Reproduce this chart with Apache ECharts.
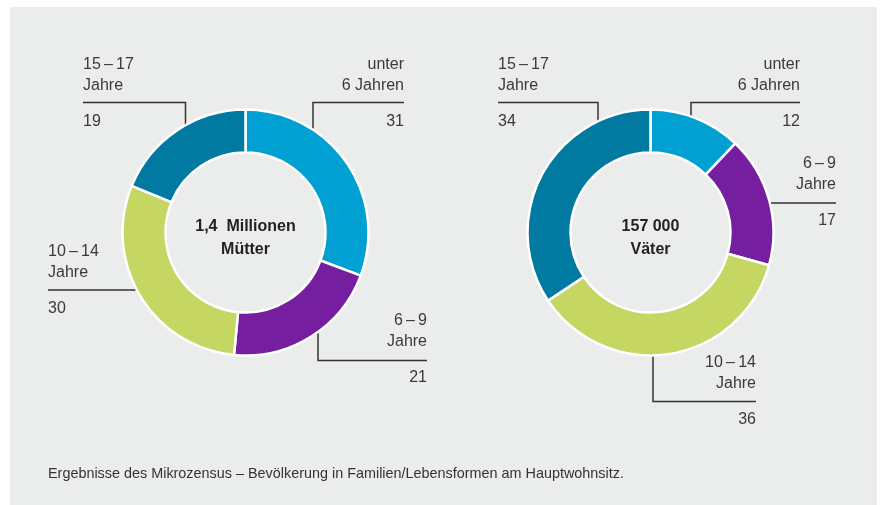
<!DOCTYPE html>
<html>
<head>
<meta charset="utf-8">
<script src="https://cdn.jsdelivr.net/npm/echarts@6/dist/echarts.min.js"></script>
<style>
html,body{margin:0;padding:0;background:#ffffff;}
#bg{position:absolute;left:10px;top:7px;width:867px;height:498px;background:#ebecec;}
#chart{position:absolute;left:0;top:0;width:880px;height:505px;}
</style>
</head>
<body>
<div id="bg"></div>
<div id="chart"></div>
<script>
// ---- data ----
const categories = ['unter\n6 Jahren', '6\u2009\u2013\u20099\nJahre', '10\u2009\u2013\u200914\nJahre', '15\u2009\u2013\u200917\nJahre'];
const muetterValues = [31, 21, 30, 19];
const vaeterValues = [12, 17, 36, 34];
const muetterCenter = '1,4  Millionen\nMütter';
const vaeterCenter = '157 000\nVäter';
const footnote = 'Ergebnisse des Mikrozensus \u2013 Bevölkerung in Familien/Lebensformen am Hauptwohnsitz.';
const colors = ['#00a0d3', '#751fa0', '#c5d663', '#007aa1'];

// ---- layout (styles, not data) ----
const R_IN = 80, R_OUT = 123;
const centers = [[245.5, 232.5], [650.5, 232.5]];
const layouts = [
  [
    {lx: 313, ly: 102.5, ex: 404, align: 'right', top: 54, dir: 'up'},
    {lx: 318, ly: 360.5, ex: 427, align: 'right', top: 310, dir: 'down'},
    {lx: null, ly: 290, ex: 48, align: 'left', top: 241, dir: 'left'},
    {lx: 185.5, ly: 102.5, ex: 83, align: 'left', top: 54, dir: 'up'}
  ],
  [
    {lx: 691, ly: 102.5, ex: 800, align: 'right', top: 54, dir: 'up'},
    {lx: null, ly: 203, ex: 836, align: 'right', top: 153, dir: 'right'},
    {lx: 653, ly: 401.5, ex: 756, align: 'right', top: 352, dir: 'down'},
    {lx: 598, ly: 102.5, ex: 498, align: 'left', top: 54, dir: 'up'}
  ]
];

function edgePoint(si, L) {
  const c = centers[si];
  const R = R_OUT - 1;
  if (L.lx === null) {
    const dy = L.ly - c[1];
    const dx = Math.sqrt(R * R - dy * dy);
    return [L.dir === 'left' ? c[0] - dx : c[0] + dx, L.ly];
  }
  const dx = L.lx - c[0];
  const dy = Math.sqrt(R * R - dx * dx);
  return [L.lx, L.dir === 'up' ? c[1] - dy : c[1] + dy];
}

const chart = echarts.init(document.getElementById('chart'), null, {renderer: 'canvas'});
const FONT = 'Liberation Sans, Arial, sans-serif';

function makeSeries(si, values) {
  return {
    type: 'pie',
    center: centers[si],
    radius: [R_IN, R_OUT],
    startAngle: 90,
    clockwise: true,
    silent: true,
    avoidLabelOverlap: false,
    itemStyle: {borderColor: '#ffffff', borderWidth: 2.5},
    label: {
      show: true,
      position: 'outside',
      formatter: p => p.name.split('\n').map(s => '{n|' + s + '}').join('\n') + '\n{v|' + p.value + '}',
      rich: {
        n: {fontFamily: FONT, fontSize: 16, lineHeight: 21, color: '#3a3a3a'},
        v: {fontFamily: FONT, fontSize: 16, lineHeight: 51, color: '#3a3a3a'}
      }
    },
    labelLine: {show: true, lineStyle: {color: '#333333', width: 1.5}, length: 10, length2: 10},
    labelLayout: function (params) {
      const L = layouts[si][params.dataIndex];
      const p0 = edgePoint(si, L);
      const pts = L.lx === null ? [p0, p0, [L.ex, L.ly]] : [p0, [L.lx, L.ly], [L.ex, L.ly]];
      return {x: L.ex, y: L.top, align: L.align, verticalAlign: 'top', labelLinePoints: pts};
    },
    data: values.map((v, i) => ({name: categories[i], value: v, itemStyle: {color: colors[i]}}))
  };
}

const centerStyle = {fontFamily: FONT, fontSize: 16, fontWeight: 'bold', color: '#222222', lineHeight: 23};

chart.setOption({
  animation: false,
  backgroundColor: 'transparent',
  title: [
    {text: muetterCenter, left: centers[0][0], top: centers[0][1] + 5.5, textAlign: 'center', textVerticalAlign: 'middle', padding: 0, textStyle: centerStyle},
    {text: vaeterCenter, left: centers[1][0], top: centers[1][1] + 5.5, textAlign: 'center', textVerticalAlign: 'middle', padding: 0, textStyle: centerStyle},
    {text: footnote, left: 48, top: 466, padding: 0,
     textStyle: {fontFamily: FONT, fontSize: 14.4, fontWeight: 'normal', color: '#333333', lineHeight: 17}}
  ],
  series: [makeSeries(0, muetterValues), makeSeries(1, vaeterValues)]
});
</script>
</body>
</html>
